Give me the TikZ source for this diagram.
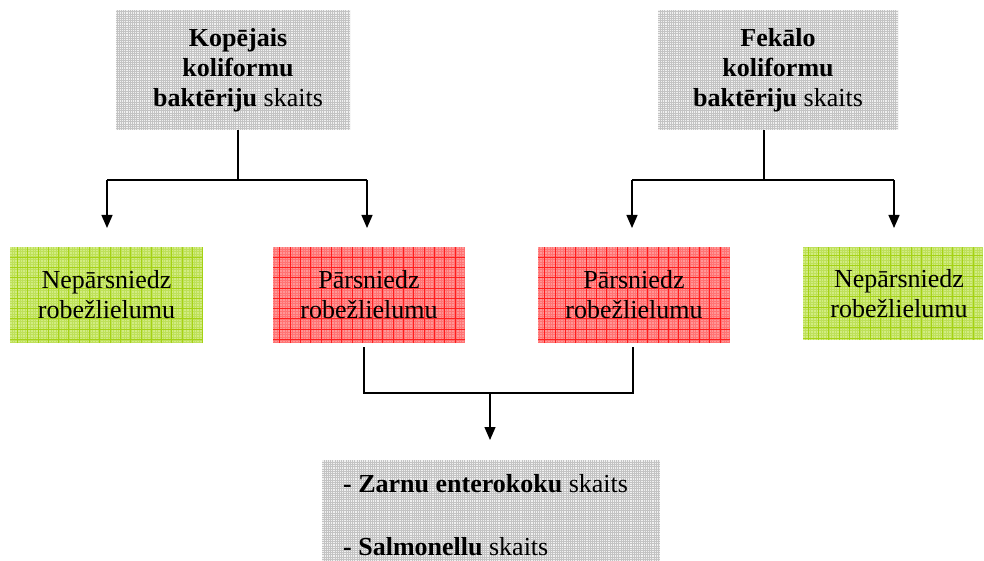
\documentclass[tikz,border=0pt]{standalone}
\usepackage{fontspec}
\setmainfont{Liberation Serif}
\usetikzlibrary{arrows.meta}
\definecolor{gbase}{RGB}{240,240,240}
\definecolor{gline}{RGB}{195,195,195}
\definecolor{grbase}{RGB}{210,236,130}
\definecolor{grfine}{RGB}{190,224,90}
\definecolor{grline}{RGB}{165,210,20}
\definecolor{rbase}{RGB}{255,150,150}
\definecolor{rfine}{RGB}{255,115,115}
\definecolor{rline}{RGB}{255,30,30}
\tikzset{
  txt/.style={font=\fontsize{26}{30}\selectfont, align=center, text=black},
  graybox/.style={txt, fill=gbase, inner sep=0pt,
    path picture={\draw[gline, line width=0.35pt, step=2.2pt]
      (path picture bounding box.south west) grid (path picture bounding box.north east);}},
  greenbox/.style={txt, fill=grbase, inner sep=0pt,
    path picture={\draw[grfine, line width=0.35pt, step=2.6pt]
      (path picture bounding box.south west) grid (path picture bounding box.north east);
      \draw[grline, line width=0.8pt, step=10.3pt]
      (path picture bounding box.south west) grid (path picture bounding box.north east);}},
  redbox/.style={txt, fill=rbase, inner sep=0pt,
    path picture={\draw[rfine, line width=0.35pt, step=2.6pt]
      (path picture bounding box.south west) grid (path picture bounding box.north east);
      \draw[rline, line width=0.8pt, step=10.3pt]
      (path picture bounding box.south west) grid (path picture bounding box.north east);}},
  conn/.style={line width=1.3pt, black},
  arr/.style={conn, -{Triangle[length=13pt,width=11pt]}},
}
\begin{document}
\begin{tikzpicture}[x=1pt,y=-1pt]
\useasboundingbox (0,0) rectangle (984,561);
% top boxes
\node[graybox, minimum width=234pt, minimum height=120pt] (t1) at (233,70)
  {\hspace*{10pt}\textbf{Kopējais}\\\hspace*{10pt}\textbf{koliformu}\\\hspace*{10pt}\textbf{baktēriju} skaits};
\node[graybox, minimum width=240pt, minimum height=120pt] (t2) at (778,70)
  {\textbf{Fekālo}\\\textbf{koliformu}\\\textbf{baktēriju} skaits};
% middle row
\node[greenbox, minimum width=193pt, minimum height=96pt] (g1) at (106.5,295)
  {Nepārsniedz\\robežlielumu};
\node[redbox, minimum width=192pt, minimum height=96pt] (r1) at (369,295)
  {Pārsniedz\\robežlielumu};
\node[redbox, minimum width=192pt, minimum height=96pt] (r2) at (634,295)
  {Pārsniedz\\robežlielumu};
\node[greenbox, minimum width=180pt, minimum height=93pt] (g2) at (893,293.5)
  {\hspace*{12pt}Nepārsniedz\\\hspace*{12pt}robežlielumu};
% bottom box
\node[graybox, minimum width=338pt, minimum height=101pt] (b) at (491,510.5) {};
\node[txt, anchor=base west, inner sep=0pt] (bz) at (343,492)
  {\textbf{- Zarnu enterokoku} skaits};
\node[txt, anchor=base west, inner sep=0pt] (bs) at (343,555)
  {\textbf{- Salmonellu} skaits};
% connectors top-left
\coordinate (j1) at (238,180);
\coordinate (j1l) at (107,180);
\coordinate (j1r) at (367,180);
\coordinate (a1l) at (107,228);
\coordinate (a1r) at (367,228);
\draw[conn] (t1.south -| j1) -- (j1);
\draw[conn] (j1l) -- (j1r);
\draw[arr] (j1l) -- (a1l);
\draw[arr] (j1r) -- (a1r);
% connectors top-right
\coordinate (j2) at (764,180);
\coordinate (j2l) at (632,180);
\coordinate (j2r) at (894,180);
\coordinate (a2l) at (632,228);
\coordinate (a2r) at (894,228);
\draw[conn] (t2.south -| j2) -- (j2);
\draw[conn] (j2l) -- (j2r);
\draw[arr] (j2l) -- (a2l);
\draw[arr] (j2r) -- (a2r);
% connectors bottom
\coordinate (s1) at (364,347);
\coordinate (s2) at (633,347);
\coordinate (m) at (490,393);
\coordinate (me) at (490,440);
\draw[conn] (s1) -- (364,393) -- (633,393) -- (s2);
\draw[arr] (m) -- (me);
\end{tikzpicture}
\end{document}
